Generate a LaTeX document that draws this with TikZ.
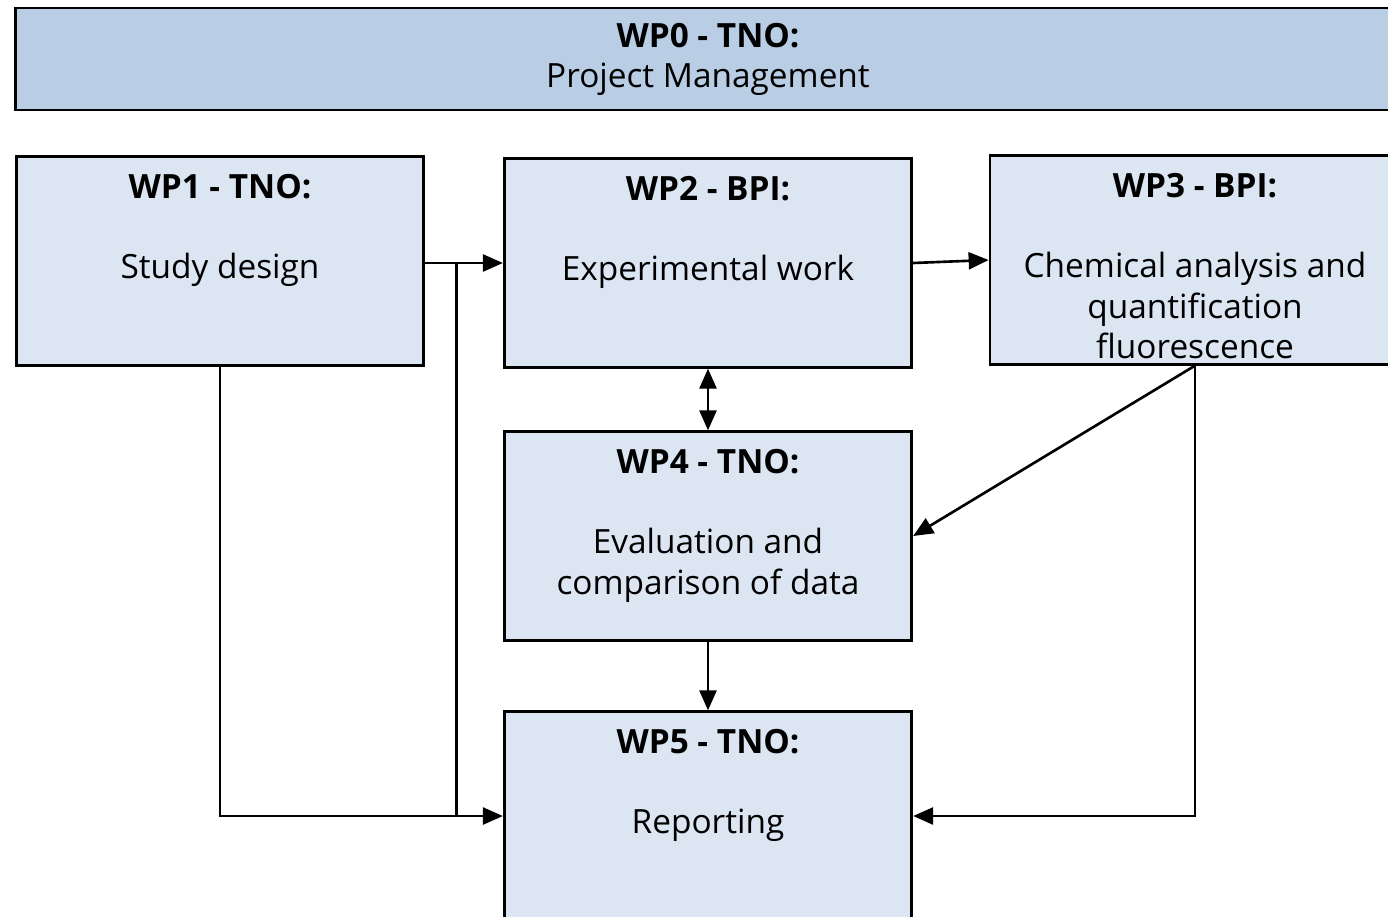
\documentclass[tikz,border=0pt]{standalone}
\usepackage{fontspec}
\setmainfont{Open Sans}
\usetikzlibrary{arrows.meta, calc, positioning}

\definecolor{headblue}{HTML}{B9CDE5}
\definecolor{wpblue}{HTML}{DCE6F2}

\begin{document}
\begin{tikzpicture}[x=0.02cm,y=-0.02cm,align=center,font=\fontsize{19}{22.8}\selectfont]
\tikzstyle{wp}=[draw=black,line width=1.6pt,fill=wpblue,minimum width=8.15cm,minimum height=4.17cm,inner sep=0pt]
\tikzstyle{wptext}=[inner sep=0pt,anchor=north]
\tikzstyle{flow}=[-{Triangle[length=0.4cm,width=0.34cm]},line width=1.5pt]
\tikzstyle{both}=[{Triangle[length=0.4cm,width=0.34cm]}-{Triangle[length=0.4cm,width=0.34cm]},line width=1.5pt]
\tikzstyle{link}=[line width=1.5pt]

\useasboundingbox (0,0) rectangle (1388,916);
\clip (0,0) rectangle (1388,916);

% management bar
\node[wp, fill=headblue, minimum width=27.72cm, minimum height=2.04cm] (wp0) at (708,59)
  {\textbf{WP0 - TNO:}\\Project Management};

% work packages
\node[wp] (wp1) at (220,261) {};
\node[wp] (wp2) at (708,263) {};
\node[wp, minimum width=8.2cm] (wp3) at (1195,260) {};
\node[wp] (wp4) at (708,536) {};
\node[wp] (wp5) at (708,816) {};

\node[wptext, below=0.38cm of wp1.north] (wp1t) {\textbf{WP1 - TNO:}\\[0.8cm]Study design};
\node[wptext, below=0.38cm of wp2.north] (wp2t) {\textbf{WP2 - BPI:}\\[0.8cm]Experimental work};
\node[wptext, below=0.38cm of wp3.north] (wp3t) {\textbf{WP3 - BPI:}\\[0.8cm]Chemical analysis and\\quantification\\fluorescence};
\node[wptext, below=0.38cm of wp4.north] (wp4t) {\textbf{WP4 - TNO:}\\[0.8cm]Evaluation and\\comparison of data};
\node[wptext, below=0.38cm of wp5.north] (wp5t) {\textbf{WP5 - TNO:}\\[0.8cm]Reporting};

% connectors
\coordinate (split) at ($(wp2.west -| wp1.east)!0.4!(wp2.west)$);
\draw[flow] (wp2.west -| wp1.east) -- (wp2.west);
\draw[link] (split) -- (split |- wp5.west);
\draw[flow] (wp1.south) |- (wp5.west);
\draw[flow] (wp2.east) -- (wp3.west);
\draw[both] (wp2.south) -- (wp4.north);
\draw[flow] (wp3.south) -- (wp4.east);
\draw[flow] (wp3.south) |- (wp5.east);
\draw[flow] (wp4.south) -- (wp5.north);
\end{tikzpicture}
\end{document}
